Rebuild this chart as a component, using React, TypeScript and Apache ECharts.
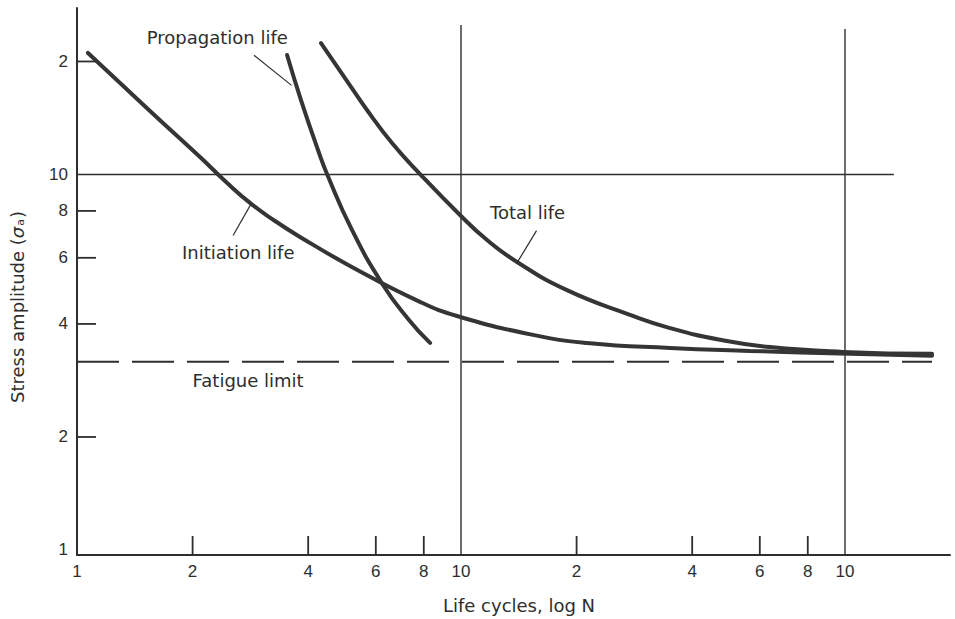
import React, { useEffect, useRef } from "react";
import * as echarts from "echarts";

// ---- Axis ticks ----
const X_TICKS = [1, 2, 4, 6, 8, 10, 20, 40, 60, 80, 100];
const X_TICK_LABELS = ["1", "2", "4", "6", "8", "10", "2", "4", "6", "8", "10"];
const Y_TICKS = [1, 2, 4, 6, 8, 10, 20];
const Y_TICK_LABELS = ["1", "2", "4", "6", "8", "10", "2"];

const X_MIN = 1;
const X_MAX = 187.7;
const Y_MIN = 0.9698;
const Y_MAX = 27.76;

// ---- Curves (N, stress amplitude) ----
const initiationN = [1.068, 1.549, 2.091, 2.429, 2.822, 3.279, 3.808, 5.14, 7.82, 9.763, 15.4, 21.29, 35.03, 56.56, 103.0, 168.5];
const initiationS = [21.07, 14.76, 11.13, 9.61, 8.4, 7.52, 6.82, 5.71, 4.58, 4.2, 3.74, 3.56, 3.45, 3.39, 3.33, 3.29];

const propagationN = [3.524, 3.831, 4.242, 4.478, 5.201, 6.264, 7.32, 8.307];
const propagationS = [20.81, 15.79, 11.62, 10.03, 7.12, 5.08, 4.1, 3.56];

const totalN = [4.319, 4.988, 5.691, 6.612, 7.822, 9.88, 11.69, 13.99, 18.88, 27.55, 35.03, 47.26, 63.78, 98.8, 168.5];
const totalS = [22.39, 18.07, 14.85, 12.13, 10.03, 7.85, 6.69, 5.85, 4.92, 4.23, 3.9, 3.63, 3.47, 3.37, 3.33];

const fatigueLimit = 3.17;
const fatigueN = [1, 168.5];

// ---- Reference lines ----
const refH10N = [1, 134];
const refV10S = [Y_MIN, 25.0];
const refV100S = [Y_MIN, 24.4];

// ---- Annotations ----
const annotationTexts = ["Propagation life", "Initiation life", "Total life", "Fatigue limit"];
const annotationN = [2.32, 2.63, 14.91, 2.79];
const annotationS = [23.19, 6.19, 7.92, 2.82];

const leaderN1 = [2.89, 2.55, 15.73];
const leaderS1 = [20.77, 6.88, 7.09];
const leaderN2 = [3.62, 2.84, 14.04];
const leaderS2 = [17.27, 8.35, 5.85];

const INK = "#2e2e2e";
const CURVE = "#353535";
const TEXT_FONT = '18px "DejaVu Sans"';
const TICK_FONT = '17px "Liberation Sans"';

const zip = (a: number[], b: number[]) => a.map((v, i) => [v, b[i]]);

export default function App() {
  const ref = useRef<HTMLDivElement>(null);

  useEffect(() => {
    if (!ref.current) return;
    const chart = echarts.init(ref.current, null, { renderer: "svg" });

    const curveSeries = (name: string, data: number[][]) => ({
      name,
      type: "line",
      data,
      smooth: 0.5,
      symbol: "none",
      silent: true,
      lineStyle: { color: CURVE, width: 4, cap: "round" },
      z: 5,
    });

    const thinLine = (name: string, data: number[][]) => ({
      name,
      type: "line",
      data,
      symbol: "none",
      silent: true,
      lineStyle: { color: INK, width: 1.4 },
      z: 3,
    });

    const option: any = {
      animation: false,
      backgroundColor: "#ffffff",
      grid: { left: 77, right: 5, top: 8, bottom: 64, containLabel: false },
      xAxis: {
        type: "log",
        logBase: 10,
        min: X_MIN,
        max: X_MAX,
        axisLine: { show: true, onZero: false, lineStyle: { color: INK, width: 2 } },
        axisTick: { show: false },
        axisLabel: { show: false },
        splitLine: { show: false },
        minorTick: { show: false },
      },
      yAxis: {
        type: "log",
        logBase: 10,
        min: Y_MIN,
        max: Y_MAX,
        axisLine: { show: true, onZero: false, lineStyle: { color: INK, width: 2 } },
        axisTick: { show: false },
        axisLabel: { show: false },
        splitLine: { show: false },
        minorTick: { show: false },
      },
      graphic: [
        {
          type: "text",
          x: 519,
          y: 605,
          silent: true,
          style: {
            text: "Life cycles, log N",
            font: TEXT_FONT,
            fill: INK,
            align: "center",
            verticalAlign: "middle",
            textAlign: "center",
            textVerticalAlign: "middle",
          },
        },
        {
          type: "text",
          x: 17,
          y: 307,
          rotation: Math.PI / 2,
          silent: true,
          style: {
            text: "{n|Stress amplitude (}{g|σ}{s|a}{n|)}",
            fill: INK,
            align: "center",
            verticalAlign: "middle",
            textAlign: "center",
            textVerticalAlign: "middle",
            rich: {
              n: { fontSize: 18, fontFamily: "DejaVu Sans", fill: INK, color: INK, lineHeight: 24, verticalAlign: "middle" },
              g: { fontSize: 18, fontFamily: "DejaVu Sans", fontStyle: "italic", fill: INK, color: INK, lineHeight: 24, verticalAlign: "middle" },
              s: { fontSize: 11, fontFamily: "DejaVu Sans", fill: INK, color: INK, lineHeight: 24, verticalAlign: "bottom", padding: [0, 1, 3, 1] },
            },
          },
        },
      ],
      series: [
        thinLine("ref10h", zip(refH10N, [10, 10])),
        thinLine("ref10v", zip([10, 10], refV10S)),
        thinLine("ref100v", zip([100, 100], refV100S)),
        {
          name: "Fatigue limit",
          type: "line",
          data: zip(fatigueN, [fatigueLimit, fatigueLimit]),
          symbol: "none",
          silent: true,
          lineStyle: { color: INK, width: 2, type: [42, 13] },
          z: 3,
        },
        curveSeries("Initiation life", zip(initiationN, initiationS)),
        curveSeries("Propagation life", zip(propagationN, propagationS)),
        curveSeries("Total life", zip(totalN, totalS)),
        {
          name: "xTicks",
          type: "custom",
          coordinateSystem: "cartesian2d",
          silent: true,
          clip: false,
          data: X_TICKS.map((v, i) => [v, Y_MIN, i]),
          renderItem: (params: any, api: any) => {
            const v = api.value(0);
            const i = api.value(2);
            const p = api.coord([v, api.value(1)]);
            const children: any[] = [];
            if (v !== 1 && v !== 10 && v !== 100) {
              children.push({
                type: "line",
                shape: { x1: p[0], y1: p[1], x2: p[0], y2: p[1] - 19 },
                style: { stroke: INK, lineWidth: 1.8 },
              });
            }
            children.push({
              type: "text",
              x: p[0],
              y: p[1] + 8,
              style: {
                text: X_TICK_LABELS[i],
                font: TICK_FONT,
                fill: INK,
                align: "center",
                verticalAlign: "top",
                textAlign: "center",
                textVerticalAlign: "top",
              },
            });
            return { type: "group", children };
          },
          z: 6,
        },
        {
          name: "yTicks",
          type: "custom",
          coordinateSystem: "cartesian2d",
          silent: true,
          clip: false,
          data: Y_TICKS.map((v, i) => [X_MIN, v, i]),
          renderItem: (params: any, api: any) => {
            const v = api.value(1);
            const i = api.value(2);
            const p = api.coord([api.value(0), v]);
            const children: any[] = [];
            if (v !== 1 && v !== 10) {
              children.push({
                type: "line",
                shape: { x1: p[0], y1: p[1], x2: p[0] + 19, y2: p[1] },
                style: { stroke: INK, lineWidth: 1.8 },
              });
            }
            children.push({
              type: "text",
              x: p[0] - 9,
              y: p[1],
              style: {
                text: Y_TICK_LABELS[i],
                font: TICK_FONT,
                fill: INK,
                align: "right",
                verticalAlign: "middle",
                textAlign: "right",
                textVerticalAlign: "middle",
              },
            });
            return { type: "group", children };
          },
          z: 6,
        },
        {
          name: "annotations",
          type: "custom",
          coordinateSystem: "cartesian2d",
          silent: true,
          clip: false,
          data: annotationN.map((n, i) => [n, annotationS[i], i]),
          renderItem: (params: any, api: any) => {
            const i = api.value(2);
            const p = api.coord([api.value(0), api.value(1)]);
            return {
              type: "text",
              x: p[0],
              y: p[1],
              style: {
                text: annotationTexts[i],
                font: TEXT_FONT,
                fill: INK,
                align: "center",
                verticalAlign: "middle",
                textAlign: "center",
                textVerticalAlign: "middle",
              },
            };
          },
          z: 6,
        },
        {
          name: "leaders",
          type: "custom",
          coordinateSystem: "cartesian2d",
          silent: true,
          clip: false,
          data: leaderN1.map((n, i) => [n, leaderS1[i], leaderN2[i], leaderS2[i]]),
          renderItem: (params: any, api: any) => {
            const p1 = api.coord([api.value(0), api.value(1)]);
            const p2 = api.coord([api.value(2), api.value(3)]);
            return {
              type: "line",
              shape: { x1: p1[0], y1: p1[1], x2: p2[0], y2: p2[1] },
              style: { stroke: INK, lineWidth: 1.2 },
            };
          },
          z: 6,
        },
      ],
    };

    chart.setOption(option);
    return () => {
      chart.dispose();
    };
  }, []);

  return (
    <div
      ref={ref}
      style={{ position: "absolute", left: 0, top: 0, width: 955, height: 619, background: "#fff" }}
    />
  );
}
